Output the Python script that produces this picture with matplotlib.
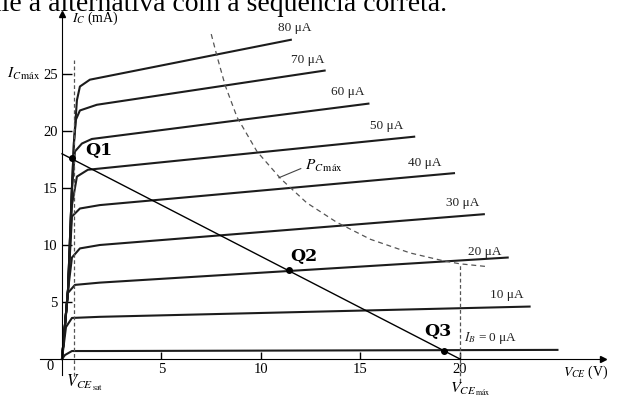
import matplotlib
matplotlib.use('Agg')
import matplotlib.pyplot as plt

plt.rcParams['font.family'] = ['Liberation Serif', 'DejaVu Serif']
plt.rcParams['mathtext.fontset'] = 'stix'

# curvas de coletor: V_CE (V) e I_C (mA)
ib_labels = ['80 μA', '70 μA', '60 μA', '50 μA', '40 μA', '30 μA', '20 μA', '10 μA', r'$I_B$ = 0 μA']
curve_v = [
    [0, 0.3, 0.5, 0.6, 0.75, 0.9, 1.4, 11.5],
    [0, 0.3, 0.5, 0.6, 0.7, 0.9, 1.75, 13.2],
    [0, 0.3, 0.5, 0.65, 1.0, 1.5, 15.4],
    [0, 0.3, 0.5, 0.75, 1.3, 17.7],
    [0, 0.3, 0.5, 0.9, 1.9, 19.7],
    [0, 0.3, 0.5, 0.9, 1.9, 21.2],
    [0, 0.3, 0.65, 1.9, 22.4],
    [0, 0.2, 0.5, 1.9, 23.5],
    [0, 0.15, 0.5, 1.9, 24.9],
]
curve_i = [
    [0, 6, 15, 19, 22.7, 23.9, 24.5, 28.0],
    [0, 6, 15, 19, 21.0, 21.8, 22.3, 25.3],
    [0, 6, 15, 18.2, 18.9, 19.3, 22.4],
    [0, 6, 13.5, 16.0, 16.6, 19.5],
    [0, 6, 12.5, 13.2, 13.5, 16.3],
    [0, 6, 8.9, 9.7, 10.0, 12.7],
    [0, 5.8, 6.5, 6.7, 8.9],
    [0, 2.8, 3.6, 3.7, 4.6],
    [0, 0.35, 0.7, 0.7, 0.8],
]
label_v = [10.85, 11.5, 13.5, 15.5, 17.4, 19.3, 20.4, 21.5, 20.2]
label_i = [29.0, 26.2, 23.4, 20.4, 17.2, 13.7, 9.4, 5.6, 1.8]

# curva de potencia maxima
pc_v = [7.5, 7.8, 8.2, 8.8, 9.8, 11.0, 12.3, 13.8, 15.5, 17.5, 19.2, 20.0, 21.4]
pc_i = [28.5, 26.5, 24.0, 21.2, 18.2, 15.8, 13.7, 12.0, 10.5, 9.3, 8.6, 8.35, 8.1]

# reta de carga e pontos Q
load_v = [0, 20]
load_i = [18, 0]
q_names = ['Q1', 'Q2', 'Q3']
q_v = [0.5, 11.4, 19.2]
q_i = [17.6, 7.8, 0.7]
q_text_v = [1.15, 11.45, 18.2]
q_text_i = [18.3, 9.0, 2.4]

vce_sat = 0.6
vce_max = 20
ic_max = 25

fig = plt.figure(figsize=(6.44, 4.0), dpi=100)
ax = fig.add_axes([0, 0, 1, 1])
ax.set_xlim(-3.116, 29.25)
ax.set_ylim(-3.596, 31.49)

for sp in ['top', 'right']:
    ax.spines[sp].set_visible(False)
ax.spines['left'].set_position(('data', 0))
ax.spines['bottom'].set_position(('data', 0))
ax.spines['left'].set_bounds(-1.4, 30.3)
ax.spines['bottom'].set_bounds(-1.1, 27.2)
ax.plot([0], [30.3], marker='^', color='k', ms=5, clip_on=False)
ax.plot([27.2], [0], marker='>', color='k', ms=5, clip_on=False)

ax.set_xticks([5, 10, 15, 20])
ax.set_yticks([5, 10, 15, 20, 25])
ax.tick_params(axis='x', direction='in', length=5, width=1, pad=3, labelsize=10.5)
ax.tick_params(axis='y', direction='in', length=7.5, width=1, pad=3, labelsize=10.5)

for v, i in zip(curve_v, curve_i):
    ax.plot(v, i, color='#1c1c1c', lw=1.5, solid_joinstyle='round')
for lab, lv, li in zip(ib_labels, label_v, label_i):
    ax.text(lv, li, lab, fontsize=9.5, ha='left', va='center', color='#222222')

ax.plot(pc_v, pc_i, color='#555555', lw=0.9, dashes=(4, 3))
ax.plot([10.9, 12.0], [15.9, 16.7], color='#444444', lw=0.8)
ax.text(12.2, 16.9, r'$P_{C\,\mathrm{máx}}$', fontsize=11, ha='left', va='center')

ax.plot([vce_sat, vce_sat], [-1.5, 26.2], color='#555555', lw=0.9, dashes=(3, 2))
ax.plot([vce_max, vce_max], [-2.0, 8.3], color='#555555', lw=0.9, dashes=(3, 2))

ax.plot(load_v, load_i, color='k', lw=1)
ax.plot(q_v, q_i, 'o', color='k', ms=4)
for name, tv, ti in zip(q_names, q_text_v, q_text_i):
    ax.text(tv, ti, name, fontsize=12.5, fontweight='bold', family='DejaVu Serif',
            ha='left', va='center')

ax.text(0.5, 29.85, r'$I_C$ (mA)', fontsize=10, ha='left', va='center')
ax.text(-1.05, ic_max, r'$I_{C\,\mathrm{máx}}$', fontsize=11, ha='right', va='center')
ax.text(-0.6, -0.65, '0', fontsize=10.5, ha='center', va='center')
ax.text(25.2, -1.15, r'$V_{CE}$ (V)', fontsize=10, ha='left', va='center')
ax.text(0.2, -2.1, r'$V_{CE_{\,\mathrm{sat}}}$', fontsize=12, ha='left', va='center')
ax.text(20.5, -2.65, r'$V_{CE_{\,\mathrm{máx}}}$', fontsize=11.5, ha='center', va='center')

fig.text(447 / 644, 1 - 11 / 400, 'Assinale a alternativa com a sequência correta.',
         fontsize=20, ha='right', va='baseline')

fig.savefig('out.png', dpi=100)
